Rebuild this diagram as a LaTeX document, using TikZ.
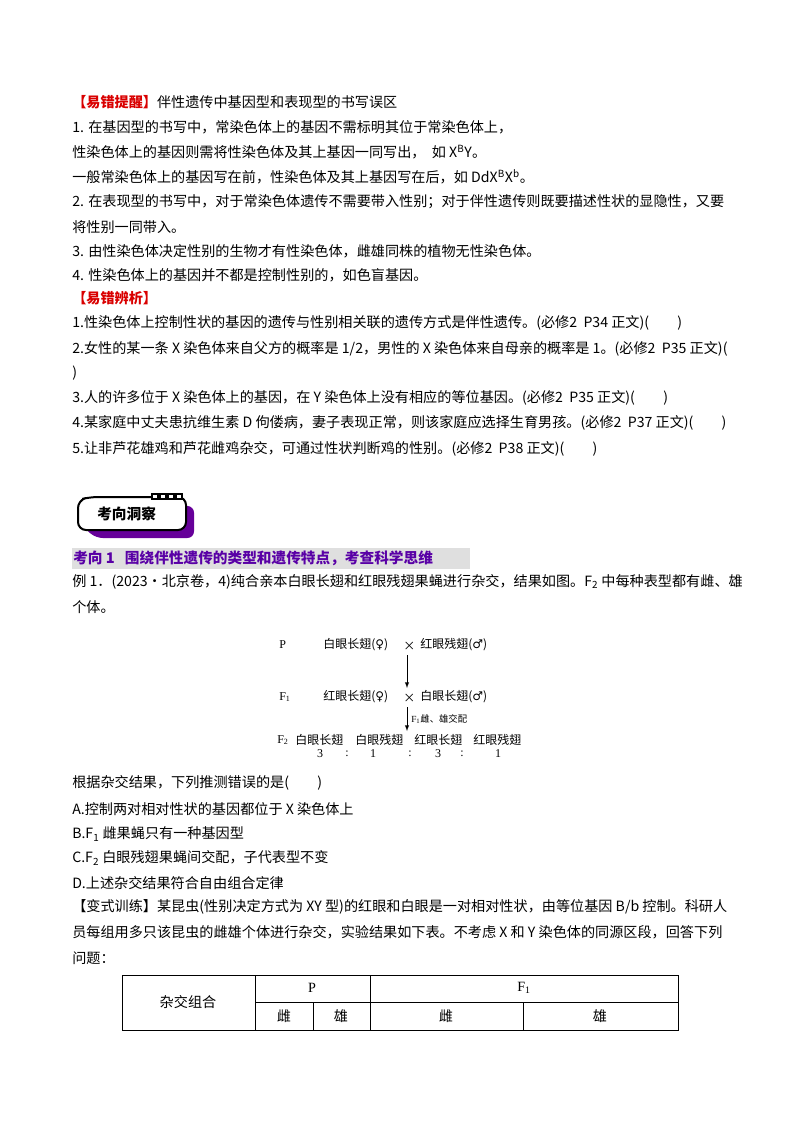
\documentclass[tikz,border=0pt]{standalone}
\usepackage{fontspec}
\setmainfont{Noto Sans CJK SC}
\newfontfamily\serif{Liberation Serif}
\newfontfamily\djsym{DejaVu Sans}
\begin{document}
\begin{tikzpicture}[x=0.75pt,y=-0.75pt,
 t/.style={anchor=west,inner sep=0pt,font=\fontsize{10.6pt}{12pt}\selectfont},
 cell/.style={draw,line width=0.5pt}]
\useasboundingbox (0,0) rectangle (800,1132);
\node[t] (h1) at (72,102) {\textcolor{red!85!black}{\textbf{【易错提醒】}}伴性遗传中基因型和表现型的书写误区};
\node[t] (a1) at (72,127) {1. 在基因型的书写中，常染色体上的基因不需标明其位于常染色体上，};
\node[t] (a2) at (72,152) {性染色体上的基因则需将性染色体及其上基因一同写出，\ \ 如 X\textsuperscript{B}Y。};
\node[t] (a3) at (72,177) {一般常染色体上的基因写在前，性染色体及其上基因写在后，如 DdX\textsuperscript{B}X\textsuperscript{b}。};
\node[t] (a4) at (72,202) {2. 在表现型的书写中，对于常染色体遗传不需要带入性别；对于伴性遗传则既要描述性状的显隐性，又要};
\node[t] (a5) at (72,227) {将性别一同带入。};
\node[t] (a6) at (72,251) {3. 由性染色体决定性别的生物才有性染色体，雌雄同株的植物无性染色体。};
\node[t] (a7) at (72,275) {4. 性染色体上的基因并不都是控制性别的，如色盲基因。};
\node[t] (h2) at (72,298) {\textcolor{red!85!black}{\textbf{【易错辨析】}}};
\node[t] (b1) at (72,323) {1.性染色体上控制性状的基因的遗传与性别相关联的遗传方式是伴性遗传。(必修2\ \ P34 正文)(\qquad)};
\node[t] (b2) at (72,349) {2.女性的某一条 X 染色体来自父方的概率是 1/2，男性的 X 染色体来自母亲的概率是 1。(必修2\ \ P35 正文)(};
\node[t] (b3) at (72,373) {)};
\node[t] (b4) at (72,398) {3.人的许多位于 X 染色体上的基因，在 Y 染色体上没有相应的等位基因。(必修2\ \ P35 正文)(\qquad)};
\node[t] (b5) at (72,423) {4.某家庭中丈夫患抗维生素 D 佝偻病，妻子表现正常，则该家庭应选择生育男孩。(必修2\ \ P37 正文)(\qquad)};
\node[t] (b6) at (72,449) {5.让非芦花雄鸡和芦花雌鸡杂交，可通过性状判断鸡的性别。(必修2\ \ P38 正文)(\qquad)};
% badge
\fill[violet!80!blue,rounded corners=5pt] (86,506) -- (194,506) -- (194,538) -- (96,538) -- (84,528) -- cycle;
\draw[line width=1.5pt,fill=white,rounded corners=6pt] (78,500) -- (78,530) -- (186,530) -- (186,497) -- (90,497) -- cycle;
\foreach \i in {0,1,2,3} \draw[line width=1pt,fill=white] (152+\i*8,494) rectangle +(6,5);
\node[t,font=\fontsize{11pt}{12pt}\selectfont\bfseries] (bd) at (97,514) {考向洞察};
% bar
\fill[gray!25] (72,548) rectangle (470,569);
\node[t,text=violet!70!blue,font=\fontsize{11pt}{12pt}\selectfont\bfseries] (k1) at (73,558) {考向 1\ \ \ 围绕伴性遗传的类型和遗传特点，考查科学思维};
\node[t] (c1) at (72,582) {例 1．(2023·北京卷，4)纯合亲本白眼长翅和红眼残翅果蝇进行杂交，结果如图。F\textsubscript{2} 中每种表型都有雌、雄};
\node[t] (c2) at (72,607) {个体。};
% cross diagram
\begin{scope}[every node/.style={t,font=\fontsize{9pt}{10pt}\selectfont}]
\node (P) at (279,645) {\serif P};
\node (p1) at (323,645) {白眼长翅(\djsym ♀\rmfamily)};
\node (px) at (403,646) {×};
\node (p2) at (420,645) {红眼残翅(\djsym ♂\rmfamily)};
\node (F1) at (279,697) {\serif F\textsubscript{1}};
\node (f1) at (323,697) {红眼长翅(\djsym ♀\rmfamily)};
\node (fx) at (403,698) {×};
\node (f2) at (420,697) {白眼长翅(\djsym ♂\rmfamily)};
\node[font=\fontsize{7pt}{8pt}\selectfont] (lab) at (411,719) {\serif F\textsubscript{1}\rmfamily 雌、雄交配};
\node (F2) at (277,740) {\serif F\textsubscript{2}};
\node (g1) at (295,740) {白眼长翅};
\node (g2) at (355,740) {白眼残翅};
\node (g3) at (414,740) {红眼长翅};
\node (g4) at (473,740) {红眼残翅};
\end{scope}
\begin{scope}[every node/.style={inner sep=0pt,font=\serif\fontsize{9pt}{10pt}\selectfont}]
\node (n1) at (320,754) {3}; \node (n2) at (347,754) {:};
\node (n3) at (373,754) {1}; \node (n4) at (410,754) {:};
\node (n5) at (438,754) {3}; \node (n6) at (462,754) {:};
\node (n7) at (498,754) {1};
\end{scope}
\coordinate (a1s) at (407,655); \coordinate (a1e) at (407,688);
\coordinate (a2s) at (407,707); \coordinate (a2e) at (407,731);
\draw[-latex,line width=0.5pt] (a1s) -- (a1e);
\draw[-latex,line width=0.5pt] (a2s) -- (a2e);
\node[t] (d0) at (72,783) {根据杂交结果，下列推测错误的是(\qquad)};
\node[t] (d1) at (72,809) {A.控制两对相对性状的基因都位于 X 染色体上};
\node[t] (d2) at (72,834) {B.F\textsubscript{1} 雌果蝇只有一种基因型};
\node[t] (d3) at (72,858) {C.F\textsubscript{2} 白眼残翅果蝇间交配，子代表型不变};
\node[t] (d4) at (72,883) {D.上述杂交结果符合自由组合定律};
\node[t] (e1) at (72,907) {【变式训练】某昆虫(性别决定方式为 XY 型)的红眼和白眼是一对相对性状，由等位基因 B/b 控制。科研人};
\node[t] (e2) at (72,932) {员每组用多只该昆虫的雌雄个体进行杂交，实验结果如下表。不考虑 X 和 Y 染色体的同源区段，回答下列};
\node[t] (e3) at (72,958) {问题：};
% table
\draw[cell] (122,975) rectangle (678,1030);
\draw[cell] (255,975) -- (255,1030);
\draw[cell] (370,975) -- (370,1030);
\draw[cell] (255,1002) -- (678,1002);
\draw[cell] (313,1002) -- (313,1030);
\draw[cell] (523,1002) -- (523,1030);
\begin{scope}[every node/.style={inner sep=0pt,font=\fontsize{10.6pt}{12pt}\selectfont}]
\node (th) at (188,1002) {杂交组合};
\node (tP) at (312,988) {\serif P};
\node (tF) at (524,988) {\serif F\textsubscript{1}};
\node (c1a) at (284,1016) {雌};
\node (c1b) at (341,1016) {雄};
\node (c1c) at (446,1016) {雌};
\node (c1d) at (600,1016) {雄};
\end{scope}
\end{tikzpicture}
\end{document}
